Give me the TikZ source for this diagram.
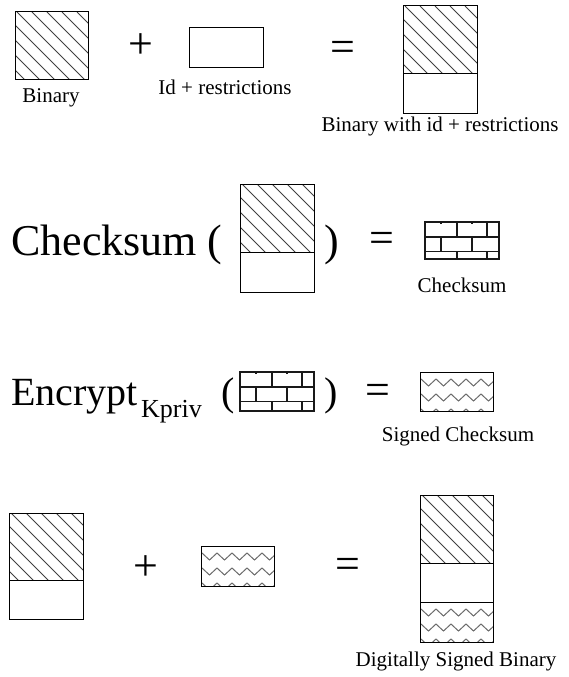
\documentclass[tikz,border=0pt]{standalone}
\usepackage{fontspec}
\setmainfont{Liberation Serif}
\tikzset{
  lbl/.style={inner sep=0pt, anchor=base, font=\fontsize{21}{24}\selectfont},
  bigtxt/.style={inner sep=0pt, font=\fontsize{44}{50}\selectfont},
  boxline/.style={draw=black, line width=1pt},
  hatchline/.style={draw=black!75, line width=0.8pt},
  brickline/.style={draw=black!90, line width=1.5pt},
  zigline/.style={draw=black!58, line width=1pt},
}
\newcommand\hatchfill[4]{%
  \begin{scope}
    \clip (#1,#2) rectangle (#3,#4);
    \foreach \k in {-6,...,6}{\draw[hatchline] ({#1+2+15*\k},#2) -- ++(120,120);}
  \end{scope}}
\newcommand\zigfill[4]{%
  \begin{scope}
    \clip (#1,#2) rectangle (#3,#4);
    \foreach \r in {0,1,2}{%
      \draw[zigline] ({#1-14},{#2+7+15*\r})
        \foreach \k in {-1,...,5}{ -- ({#1+8.5+15*\k},{#2+14+15*\r}) -- ({#1+16+15*\k},{#2+7+15*\r}) };}
  \end{scope}}
\newcommand\brickfill[4]{%
  \begin{scope}
    \clip (#1,#2) rectangle (#3,#4);
    \draw[brickline] (#1,{#2+15}) -- (#3,{#2+15}) (#1,{#2+29.5}) -- (#3,{#2+29.5});
    \draw[brickline] ({#1+32},#2) -- ({#1+32},{#2+15}) ({#1+62},#2) -- ({#1+62},{#2+15})
      ({#1+16},{#2+15}) -- ({#1+16},{#2+29.5}) ({#1+47},{#2+15}) -- ({#1+47},{#2+29.5})
      ({#1+32},{#2+29.5}) -- ({#1+32},#4) ({#1+62},{#2+29.5}) -- ({#1+62},#4)
      ({#1+16},#2) -- ({#1+16},{#2+1.5}) ({#1+47},#2) -- ({#1+47},{#2+1.5});
  \end{scope}
  \draw[brickline] (#1,#2) rectangle (#3,#4);}
\begin{document}
\begin{tikzpicture}[x=1pt, y=-1pt]
\useasboundingbox (0,0) rectangle (568,677);
% ---------- Row 1
\hatchfill{15}{12}{88}{79}
\draw[boxline] (15,12) rectangle (88,79);
\node[lbl] (binlbl) at (51,102) {Binary};
\node[bigtxt] (plusA) at (141,46) {+};
\draw[boxline] (189,28) rectangle (263,68);
\node[lbl] (idlbl) at (225,94) {Id + restrictions};
\node[bigtxt] (eqA) at (343,51) {=};
\hatchfill{403}{6}{477}{73}
\draw[boxline] (403,6) rectangle (477,113) (403,73) -- (477,73);
\node[lbl] (bwlbl) at (440,131) {Binary with id + restrictions};
% ---------- Row 2
\node[bigtxt, anchor=base west] (chk) at (11,255) {Checksum (};
\hatchfill{240}{184}{314}{252}
\draw[boxline] (240,184) rectangle (314,292) (240,252) -- (314,252);
\node[bigtxt, anchor=base] (rpA) at (332,255) {)};
\node[bigtxt] (eqB) at (382,242) {=};
\brickfill{425}{222}{499}{259}
\node[lbl] (chklbl) at (462,292) {Checksum};
% ---------- Row 3
\node[inner sep=0pt, anchor=base west, font=\fontsize{40}{46}\selectfont] (enc) at (11,405) {Encrypt};
\node[inner sep=0pt, anchor=base west, font=\fontsize{26}{30}\selectfont] (kpriv) at (141,417) {Kpriv};
\node[inner sep=0pt, anchor=base, font=\fontsize{40}{46}\selectfont] (lpB) at (228,405) {(};
\brickfill{240}{372}{314}{411}
\node[inner sep=0pt, anchor=base, font=\fontsize{40}{46}\selectfont] (rpB) at (331,405) {)};
\node[bigtxt] (eqC) at (378,394) {=};
\zigfill{420}{372}{493}{411}
\draw[boxline] (420,372) rectangle (493,411);
\node[lbl] (sclbl) at (458,441) {Signed Checksum};
% ---------- Row 4
\hatchfill{9}{513}{83}{580}
\draw[boxline] (9,513) rectangle (83,619) (9,580) -- (83,580);
\node[bigtxt] (plusB) at (146,568) {+};
\zigfill{201}{546}{274}{586}
\draw[boxline] (201,546) rectangle (274,586);
\node[bigtxt] (eqD) at (348,568) {=};
\hatchfill{420}{495}{493}{563}
\zigfill{420}{602}{493}{642}
\draw[boxline] (420,495) rectangle (493,642) (420,563) -- (493,563) (420,602) -- (493,602);
\node[lbl] (dsblbl) at (456,666) {Digitally Signed Binary};
\end{tikzpicture}
\end{document}
